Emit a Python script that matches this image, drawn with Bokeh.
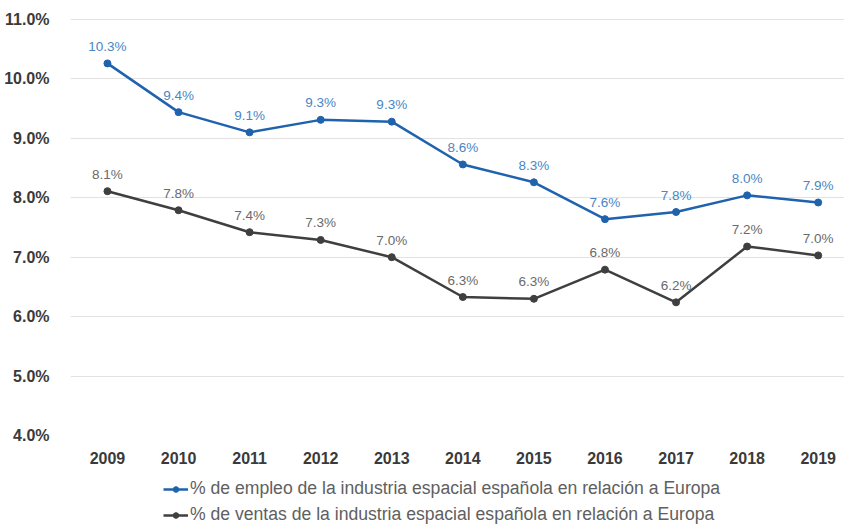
from bokeh.plotting import figure
from bokeh.models import ColumnDataSource, Legend, LegendItem, FixedTicker, Range1d, CustomJSTickFormatter
from bokeh.layouts import column
from bokeh.core.properties import value
from bokeh.embed import file_html
from bokeh.resources import INLINE

years = [2009, 2010, 2011, 2012, 2013, 2014, 2015, 2016, 2017, 2018, 2019]
empleo = [10.26, 9.44, 9.10, 9.31, 9.28, 8.56, 8.26, 7.64, 7.76, 8.04, 7.92]
ventas = [8.11, 7.79, 7.42, 7.29, 7.00, 6.33, 6.30, 6.79, 6.24, 7.18, 7.03]
y_ticks = [4, 5, 6, 7, 8, 9, 10, 11]
name_empleo = "% de empleo de la industria espacial española en relación a Europa"
name_ventas = "% de ventas de la industria espacial española en relación a Europa"

BLUE = "#1f62ad"
BLUE_LBL = "#4a86c4"
GRAY = "#3f3f3f"
GRAY_LBL = "#6a6a6a"
FONT = "Liberation Sans"

src_e = ColumnDataSource(dict(x=years, y=empleo, lbl=[f"{v:.1f}%" for v in empleo]))
src_v = ColumnDataSource(dict(x=years, y=ventas, lbl=[f"{v:.1f}%" for v in ventas]))

p = figure(width=844, height=470, output_backend="svg", toolbar_location=None,
           x_range=Range1d(2008.48, 2019.37), y_range=Range1d(4.0, 11.15),
           min_border_left=70, min_border_right=0, min_border_top=10, min_border_bottom=35)
p.outline_line_color = None
p.background_fill_color = "white"

l1 = p.line("x", "y", source=src_e, line_color=BLUE, line_width=2.5)
c1 = p.scatter("x", "y", source=src_e, size=7, fill_color=BLUE, line_color=BLUE)
l2 = p.line("x", "y", source=src_v, line_color=GRAY, line_width=2.5)
c2 = p.scatter("x", "y", source=src_v, size=7, fill_color=GRAY, line_color=GRAY)

p.text("x", "y", text="lbl", source=src_e, text_align="center", text_baseline="middle",
       y_offset=-17, text_font_size="13.5px", text_color=BLUE_LBL, text_font=value(FONT))
p.text("x", "y", text="lbl", source=src_v, text_align="center", text_baseline="middle",
       y_offset=-17, text_font_size="13.5px", text_color=GRAY_LBL, text_font=value(FONT))

p.yaxis.ticker = FixedTicker(ticks=y_ticks)
p.yaxis.formatter = CustomJSTickFormatter(code="return tick.toFixed(1) + '%';")
p.xaxis.ticker = FixedTicker(ticks=years)
for ax in (p.xaxis, p.yaxis):
    ax.axis_line_color = None
    ax.major_tick_line_color = None
    ax.minor_tick_line_color = None
    ax.major_label_text_font = FONT
    ax.major_label_text_font_style = "bold"
    ax.major_label_text_font_size = "16px"
    ax.major_label_text_color = "#3a3a3a"
p.yaxis.major_label_standoff = 15
p.xaxis.major_label_standoff = 10

p.xgrid.grid_line_color = None
p.ygrid.ticker = FixedTicker(ticks=y_ticks)
p.ygrid.grid_line_color = "#e2e2e2"
p.ygrid.grid_line_width = 1

# legend strip below the chart (its own series renderers sit outside its visible range)
lg = figure(width=844, height=55, output_backend="svg", toolbar_location=None,
            x_range=Range1d(0, 1), y_range=Range1d(0, 1),
            x_axis_location=None, y_axis_location=None,
            min_border_left=0, min_border_right=0, min_border_top=0, min_border_bottom=0)
lg.grid.visible = False
lg.outline_line_color = None
gl1 = lg.line("x", "y", source=src_e, line_color=BLUE, line_width=2.5)
gc1 = lg.scatter("x", "y", source=src_e, size=7, fill_color=BLUE, line_color=BLUE)
gl2 = lg.line("x", "y", source=src_v, line_color=GRAY, line_width=2.5)
gc2 = lg.scatter("x", "y", source=src_v, size=7, fill_color=GRAY, line_color=GRAY)

legend = Legend(items=[LegendItem(label=name_empleo, renderers=[gl1, gc1]),
                       LegendItem(label=name_ventas, renderers=[gl2, gc2])],
                location=(93, 0), orientation="vertical",
                label_text_font=FONT, label_text_font_size="17.6px", label_text_color="#606060",
                glyph_width=25, glyph_height=14, label_standoff=2, spacing=5, label_height=20,
                padding=2, margin=0, border_line_color=None, background_fill_alpha=0)
lg.add_layout(legend)

open("out.html", "w").write(file_html(column(p, lg, spacing=0), INLINE))
